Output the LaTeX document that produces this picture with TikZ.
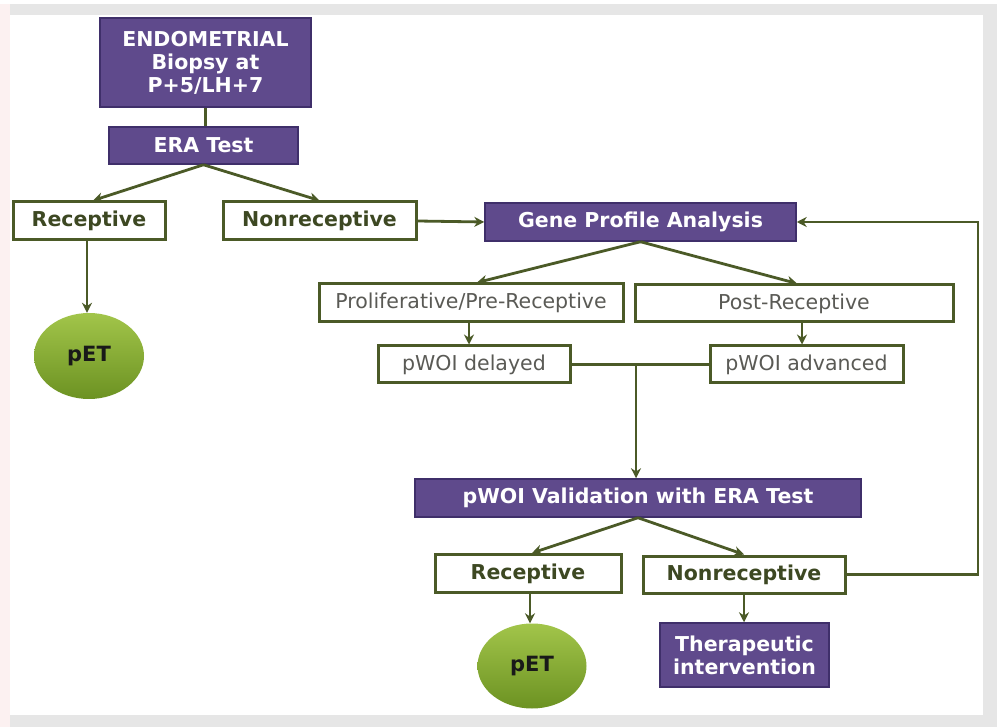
\documentclass[tikz,border=0pt]{standalone}
\usepackage{fontspec}
\setmainfont{DejaVu Sans}
\usetikzlibrary{arrows.meta,calc,shapes.geometric,shadings}
\definecolor{purp}{HTML}{5F4A8C}
\definecolor{purpdark}{HTML}{3F2F6A}
\definecolor{olive}{HTML}{4B5A27}
\definecolor{olivetext}{HTML}{3D4822}
\definecolor{greytext}{HTML}{5A5A55}
\definecolor{greenlight}{HTML}{A2C54A}
\definecolor{greendark}{HTML}{6C9222}
\definecolor{bggrey}{HTML}{E6E6E6}
\definecolor{bgpink}{HTML}{FCF1F1}
\tikzset{
  purplebox/.style={draw=purpdark, line width=1.5pt, fill=purp, text=white,
    font=\fontsize{20.5}{23}\selectfont\bfseries, align=center, inner sep=0pt},
  boldbox/.style={draw=olive, line width=3pt, fill=white, text=olivetext,
    font=\fontsize{20.5}{23}\selectfont\bfseries, align=center, inner sep=0pt},
  plainbox/.style={draw=olive, line width=3pt, fill=white, text=greytext,
    font=\fontsize{20.5}{23}\selectfont, align=center, inner sep=0pt},
  petnode/.style={ellipse, top color=greenlight, bottom color=greendark,
    text=black!90, font=\fontsize{21}{23}\selectfont\bfseries, inner sep=0pt},
  conn/.style={draw=olive, line width=2.8pt},
  arr/.style={conn, -{Stealth[length=10pt,width=10pt]}}
}
\begin{document}
\begin{tikzpicture}[x=1pt,y=-1pt]
% background
\fill[bggrey] (0,0) rectangle (997,727);
\fill[white] (0,0) rectangle (997,4);
\fill[bgpink] (0,4) rectangle (10,727);
\fill[white] (10,15) rectangle (983,715);
\useasboundingbox (0,0) rectangle (997,727);

% nodes
\node[purplebox, minimum width=211pt, minimum height=89pt] (endo) at (205.5,62.5) {ENDOMETRIAL\\Biopsy at\\P+5/LH+7};
\node[purplebox, minimum width=189pt, minimum height=37pt] (era) at (203.5,145.5) {ERA Test};
\node[boldbox, minimum width=152pt, minimum height=38pt] (rec1) at (89,221) {Receptive};
\node[boldbox, minimum width=193pt, minimum height=38pt] (non1) at (319.5,221) {Nonreceptive};
\node[purplebox, minimum width=311pt, minimum height=38pt] (gpa) at (640.5,222) {Gene Profile Analysis};
\node[petnode, minimum width=110pt, minimum height=86pt] (pet1) at (89,356) {pET};
\node[plainbox, minimum width=304pt, minimum height=38pt] (prolif) at (471,303) {Proliferative/Pre-Receptive};
\node[plainbox, minimum width=318pt, minimum height=37pt] (post) at (794,303.5) {Post-Receptive};
\node[plainbox, minimum width=192pt, minimum height=37pt] (delayed) at (474,364.5) {pWOI delayed};
\node[plainbox, minimum width=193pt, minimum height=37pt] (adv) at (806.5,364.5) {pWOI advanced};
\node[purplebox, minimum width=446pt, minimum height=38pt] (valid) at (638,498) {pWOI Validation with ERA Test};
\node[boldbox, minimum width=186pt, minimum height=38pt] (rec2) at (528,573.5) {Receptive};
\node[boldbox, minimum width=202pt, minimum height=37pt] (non2) at (744,574.5) {Nonreceptive};
\node[petnode, minimum width=109pt, minimum height=85pt] (pet2) at (532,666) {pET};
\node[purplebox, minimum width=169pt, minimum height=64pt] (ther) at (744.5,655) {Therapeutic\\intervention};

% helper coordinates
\coordinate (j) at ($(delayed.east)!0.471!(adv.west)$);
\coordinate (fb) at (978,0);
\coordinate (advx) at (802,0);
\coordinate (prolx) at (469,0);
\coordinate (rec2x) at (530,0);
\coordinate (rec1x) at (87,0);
\coordinate (rec1in) at ($(rec1.north)+(4,0)$);
\coordinate (prolin) at ($(prolif.north)+(6,0)$);
\coordinate (postin) at ($(post.north)+(3,0)$);
\coordinate (rec2in) at ($(rec2.north)+(4,0)$);

% connectors
\draw[conn] (endo.south) -- (endo.south |- era.north);
\draw[arr] (era.south) -- (rec1in);
\draw[arr] (era.south) -- (non1.north);
\draw[arr] (rec1x |- rec1.south) -- (rec1x |- pet1.north);
\draw[arr] (non1.east) -- (gpa.west);
\draw[arr] (gpa.south) -- (prolin);
\draw[arr] (gpa.south) -- (postin);
\draw[arr] (prolx |- prolif.south) -- (prolx |- delayed.north);
\draw[arr] (advx |- post.south) -- (advx |- adv.north);
\draw[conn] (delayed.east) -- (adv.west);
\draw[arr] (j) -- (j |- valid.north);
\draw[arr] (valid.south) -- (rec2in);
\draw[arr] (valid.south) -- (non2.north);
\draw[arr] (rec2x |- rec2.south) -- (rec2x |- pet2.north);
\draw[arr] (non2.south) -- (non2.south |- ther.north);
\draw[arr] (non2.east) -- (non2.east -| fb) -- (fb |- gpa.east) -- (gpa.east);
\end{tikzpicture}
\end{document}
